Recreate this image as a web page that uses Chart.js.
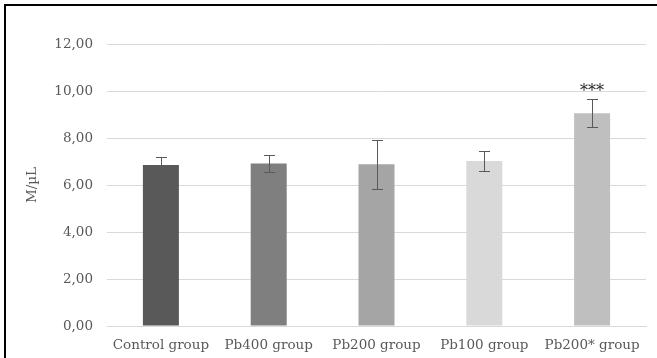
<!DOCTYPE html>
<html>
<head>
<meta charset="utf-8">
<script src="https://cdn.jsdelivr.net/npm/chart.js@4"></script>
<style>
  html, body { margin: 0; padding: 0; background: #fff; }
  #wrap { position: relative; width: 657px; height: 358px; overflow: hidden; }
  #frame { position: absolute; left: 4px; top: 4px; width: 660px; height: 400px;
           border-top: 2px solid #000; border-left: 2px solid #000; box-sizing: border-box; pointer-events: none; }
  canvas { position: absolute; left: 0; top: 0; }
</style>
</head>
<body>
<div id="wrap">
  <canvas id="c" width="657" height="358"></canvas>
  <div id="frame"></div>
</div>
<script>
const categories = ['Control group', 'Pb400 group', 'Pb200 group', 'Pb100 group', 'Pb200* group'];
const values = [6.85, 6.92, 6.88, 7.02, 9.05];
const errors = [0.33, 0.35, 1.03, 0.44, 0.59];
const barColors = ['#595959', '#7f7f7f', '#a5a5a5', '#d9d9d9', '#bfbfbf'];
const significance = ['', '', '', '', '***'];
const yMin = 0, yMax = 12, yStep = 2;
const yTitle = 'M/\u00b5L';

const fontFamily = '"DejaVu Serif", "Liberation Serif", serif';

const errorBarPlugin = {
  id: 'errorBars',
  afterDatasetsDraw(chart) {
    const ctx = chart.ctx;
    const meta = chart.getDatasetMeta(0);
    const y = chart.scales.y;
    ctx.save();
    ctx.strokeStyle = '#595959';
    ctx.lineWidth = 1;
    meta.data.forEach((bar, i) => {
      const x = Math.round(bar.x) + 0.5;
      const yTop = Math.round(y.getPixelForValue(values[i] + errors[i])) + 0.5;
      const yBot = Math.round(y.getPixelForValue(values[i] - errors[i])) + 0.5;
      const cap = 5.5;
      ctx.beginPath();
      ctx.moveTo(x, yTop); ctx.lineTo(x, yBot);
      ctx.moveTo(x - cap, yTop); ctx.lineTo(x + cap, yTop);
      ctx.moveTo(x - cap, yBot); ctx.lineTo(x + cap, yBot);
      ctx.stroke();
      if (significance[i]) {
        ctx.fillStyle = '#262626';
        ctx.font = '16px ' + fontFamily;
        ctx.textAlign = 'center';
        ctx.textBaseline = 'middle';
        ctx.fillText(significance[i], bar.x, yTop - 8);
      }
    });
    ctx.restore();
  }
};

new Chart(document.getElementById('c'), {
  type: 'bar',
  data: {
    labels: categories,
    datasets: [{
      data: values,
      backgroundColor: barColors,
      borderWidth: 0,
      categoryPercentage: 1,
      barPercentage: 0.334
    }]
  },
  options: {
    responsive: false,
    animation: false,
    devicePixelRatio: 1,
    layout: { padding: { left: 24, right: 11, top: 44, bottom: 0 } },
    plugins: { legend: { display: false }, tooltip: { enabled: false } },
    scales: {
      x: {
        grid: { display: false, drawTicks: false },
        border: { display: true, color: '#d9d9d9', width: 1 },
        ticks: { color: '#595959', padding: 11, font: { family: fontFamily, size: 13.5 }, maxRotation: 0 },
        afterFit(s) { s.height = 32; }
      },
      y: {
        min: yMin, max: yMax,
        grid: { color: '#d9d9d9', lineWidth: 1, drawTicks: false },
        border: { display: false },
        ticks: {
          stepSize: yStep, color: '#595959', padding: 14,
          font: { family: fontFamily, size: 13.5 },
          callback: v => v.toFixed(2).replace('.', ',')
        },
        title: { display: true, text: yTitle, color: '#595959', padding: 0,
                 font: { family: fontFamily, size: 13.5 } },
        afterFit(s) { s.width = 83; }
      }
    }
  },
  plugins: [errorBarPlugin]
});
</script>
</body>
</html>
